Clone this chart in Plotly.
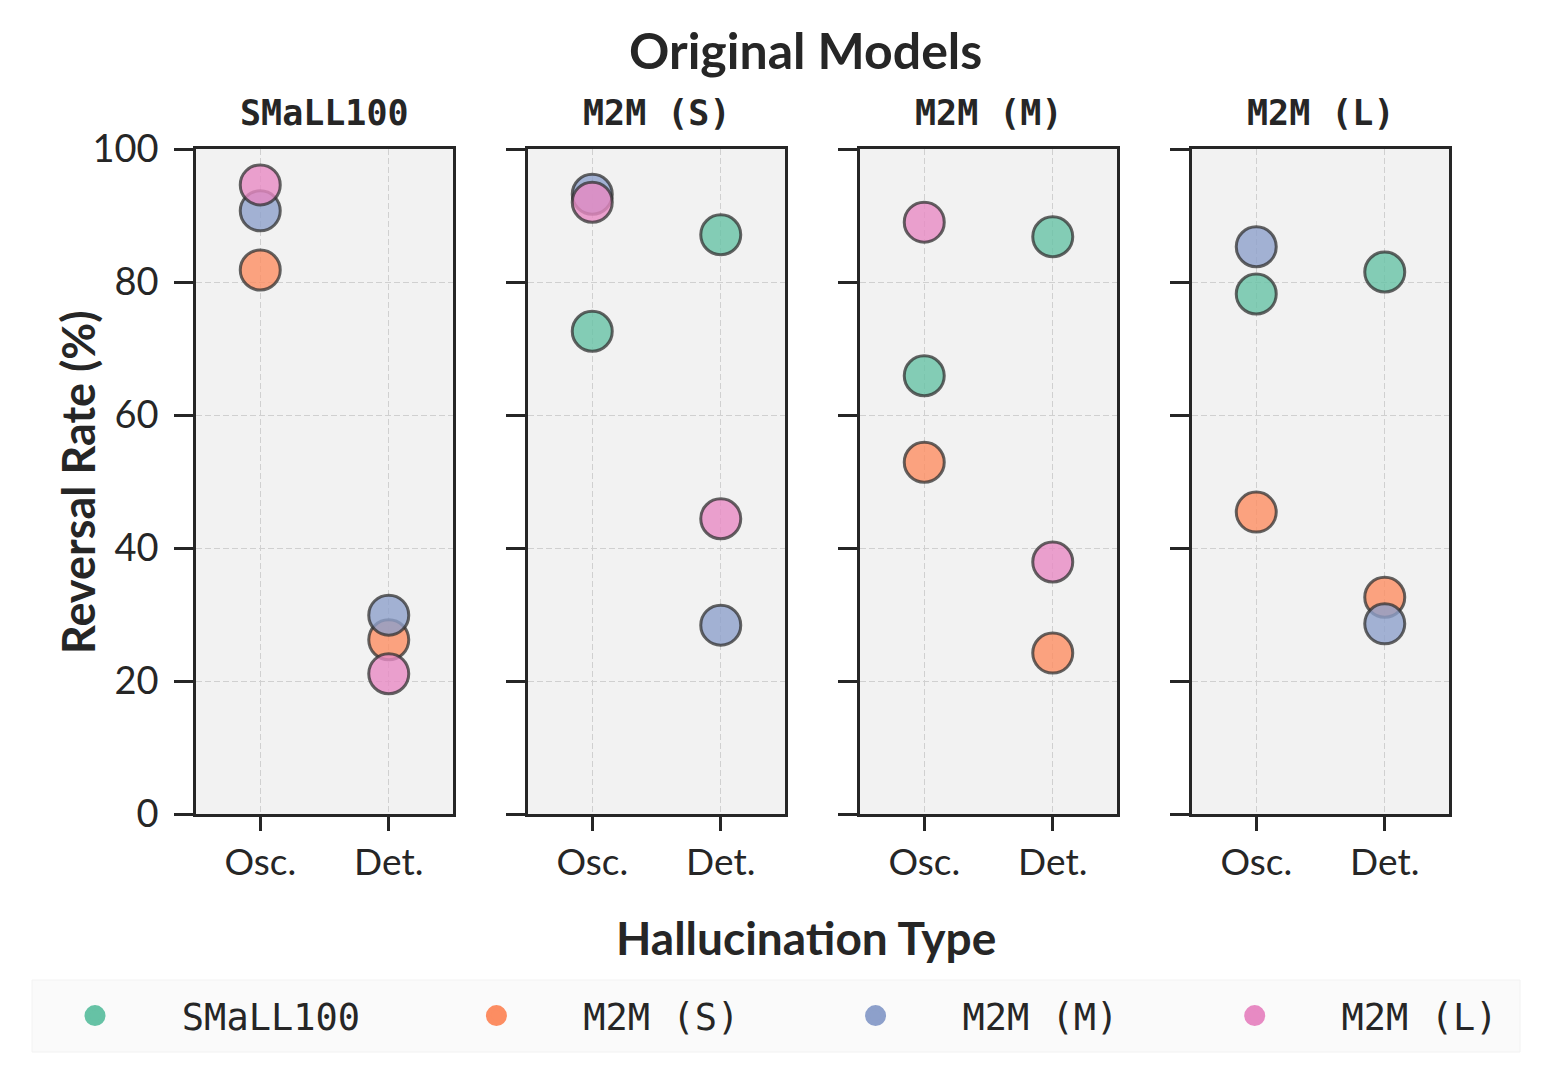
import plotly.graph_objects as go

# ---- data ----
panels = ["SMaLL100", "M2M (S)", "M2M (M)", "M2M (L)"]
series = ["SMaLL100", "M2M (S)", "M2M (M)", "M2M (L)"]
categories = ["Osc.", "Det."]
colors = ["#66c2a5", "#fc8d62", "#8da0cb", "#e78ac3"]

# values per panel (original model): [Osc., Det.] for each series (None = not shown)
small100_vals = {"SMaLL100": None, "M2M (S)": [81.8, 26.2], "M2M (M)": [90.7, 29.9], "M2M (L)": [94.6, 21.1]}
m2m_s_vals = {"SMaLL100": [72.6, 87.1], "M2M (S)": None, "M2M (M)": [93.2, 28.4], "M2M (L)": [92.0, 44.4]}
m2m_m_vals = {"SMaLL100": [65.9, 86.8], "M2M (S)": [52.9, 24.2], "M2M (M)": None, "M2M (L)": [89.0, 37.9]}
m2m_l_vals = {"SMaLL100": [78.2, 81.5], "M2M (S)": [45.4, 32.6], "M2M (M)": [85.3, 28.6], "M2M (L)": None}
panel_values = [small100_vals, m2m_s_vals, m2m_m_vals, m2m_l_vals]
y_ticks = [0, 20, 40, 60, 80, 100]

W, H = 1552, 1085
OFF = 8  # page body margin offset
TXT = "#262626"
SANS = "Lato, 'Open Sans', sans-serif"
MONO = "'DejaVu Sans Mono', monospace"
NB = "\u00a0"

def rgba(hexc, a):
    h = hexc.lstrip("#")
    return "rgba(%d,%d,%d,%s)" % (int(h[0:2], 16), int(h[2:4], 16), int(h[4:6], 16), a)

def fx(px):
    return (px - OFF) / W

def fy(py):
    return 1 - (py - OFF) / H

# panel pixel extents (page coordinates)
px_left = [196, 528, 860, 1192]
px_w = 257
y_top, y_bot = 149, 814

fig = go.Figure()
for p, vals in enumerate(panel_values):
    ax = "" if p == 0 else str(p + 1)
    for s, name in enumerate(series):
        v = vals[name]
        if v is None:
            continue
        fig.add_trace(go.Scatter(
            x=categories, y=v, mode="markers", showlegend=False,
            xaxis="x" + ax, yaxis="y" + ax, name=name,
            marker=dict(size=40, color=rgba(colors[s], 0.8),
                        line=dict(color="rgba(50,50,50,0.75)", width=3)),
            hoverinfo="x+y+name"))

# legend-only traces
for s, name in enumerate(series):
    label = NB * 3 + name + (NB * 5 if s < len(series) - 1 else "")
    fig.add_trace(go.Scatter(x=[None], y=[None], mode="markers", name=label,
                             marker=dict(size=26, color=colors[s], line=dict(color=colors[s], width=5)),
                             showlegend=True))

layout = dict(width=W, height=H, margin=dict(l=0, r=0, t=0, b=0, autoexpand=False),
              paper_bgcolor="white", plot_bgcolor="#f2f2f2",
              font=dict(family=SANS, color=TXT, size=28))
for p in range(4):
    ax = "" if p == 0 else str(p + 1)
    layout["xaxis" + ax] = dict(
        domain=[fx(px_left[p]), fx(px_left[p] + px_w)], anchor="y" + ax,
        type="category", range=[-0.5, 1.5], categoryorder="array", categoryarray=categories,
        showline=True, mirror=True, linecolor=TXT, linewidth=2.5,
        ticks="outside", ticklen=14, tickwidth=2.5, tickcolor=TXT, automargin=False,
        showgrid=True, gridcolor="#d0d0d0", griddash="6px,3px", gridwidth=1.3,
        tickfont=dict(family=SANS, size=37, color=TXT), zeroline=False, fixedrange=True)
    layout["yaxis" + ax] = dict(
        domain=[fy(y_bot), fy(y_top)], anchor="x" + ax,
        range=[0, 100], tickvals=y_ticks, showticklabels=(p == 0),
        showline=True, mirror=True, linecolor=TXT, linewidth=2.5,
        ticks="outside", ticklen=19, tickwidth=2.5, tickcolor=TXT, automargin=False,
        ticklabelstandoff=8,
        showgrid=True, gridcolor="#d0d0d0", griddash="6px,3px", gridwidth=1.3,
        tickfont=dict(family=SANS, size=38, color=TXT), zeroline=False, fixedrange=True)

annotations = []
for p, t in enumerate(panels):
    annotations.append(dict(text="<b>%s</b>" % t, x=fx(px_left[p] + px_w / 2), y=fy(113),
                            xref="paper", yref="paper", showarrow=False,
                            font=dict(family=MONO, size=35, color=TXT), xanchor="center", yanchor="middle"))
annotations.append(dict(text="<b>Original Models</b>", x=fx(806), y=fy(50), xref="paper", yref="paper",
                        showarrow=False, font=dict(family=SANS, size=50, color=TXT),
                        xanchor="center", yanchor="middle"))
annotations.append(dict(text="<b>Hallucination Type</b>", x=fx(806), y=fy(937), xref="paper", yref="paper",
                        showarrow=False, font=dict(family=SANS, size=46, color=TXT),
                        xanchor="center", yanchor="middle"))
annotations.append(dict(text="<b>Reversal Rate (%)</b>", x=fx(78), y=fy(482), xref="paper", yref="paper",
                        showarrow=False, textangle=-90, font=dict(family=SANS, size=45, color=TXT),
                        xanchor="center", yanchor="middle"))
layout["annotations"] = annotations
layout["shapes"] = [dict(type="rect", xref="paper", yref="paper", x0=fx(32), x1=fx(1520),
                         y0=fy(1052), y1=fy(980), fillcolor="#fafafa",
                         line=dict(color="#f2f2f2", width=1), layer="below")]
layout["legend"] = dict(orientation="h", x=fx(75), y=fy(1016), xanchor="left", yanchor="middle",
                        bgcolor="rgba(0,0,0,0)", font=dict(family=MONO, size=37, color=TXT),
                        itemsizing="trace")
fig.update_layout(**layout)
fig.write_html("out.html")
